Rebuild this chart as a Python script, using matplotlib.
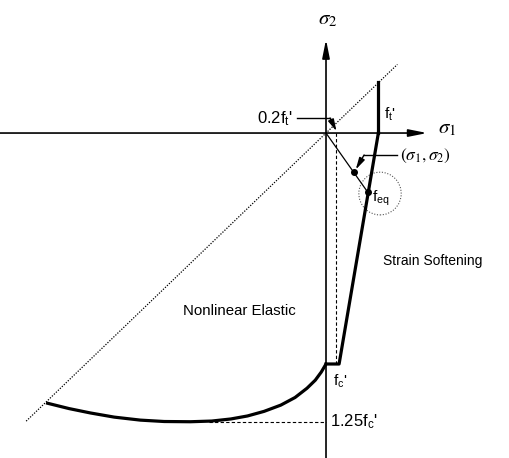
import numpy as np
import matplotlib.pyplot as plt
from matplotlib.patches import Ellipse

plt.rcParams['font.family'] = ['Liberation Sans', 'DejaVu Sans']
plt.rcParams['mathtext.fontset'] = 'custom'
plt.rcParams['mathtext.rm'] = 'Liberation Sans'
plt.rcParams['mathtext.it'] = 'Liberation Sans'

# stresses normalised by f_c'
fc = 1.0
ft = 0.22
fc_peak = 1.25
ft_low = 0.2 * ft        # 0.2 f_t'
soft_end = 0.055          # foot of the softening branch at -f_c'

# nonlinear elastic branch (sigma1, sigma2)
curve_s1 = [-1.17, -1.08, -0.99, -0.89, -0.78, -0.68, -0.57, -0.48, -0.40, -0.33, -0.26,
            -0.19, -0.13, -0.08, -0.045, -0.02, 0.0]
curve_s2 = [-1.17, -1.193, -1.212, -1.23, -1.243, -1.249, -1.25, -1.247, -1.238, -1.225, -1.205,
            -1.178, -1.145, -1.105, -1.07, -1.035, -1.0]

# equal biaxial line sigma1 = sigma2
diag = [-1.26, 0.30]

# stress point and its equivalent point on the failure line
pt = (0.118, -0.170)
feq = (0.176, -0.257)

fig = plt.figure(figsize=(5.09, 4.58), dpi=100)
ax = fig.add_axes([0, 0, 1, 1])
ax.set_xlim(-1.370, 0.769)
ax.set_ylim(-1.407, 0.576)
ax.axis('off')

arr = dict(arrowstyle='-|>,head_length=1.1,head_width=0.22', color='black', lw=1.2,
           shrinkA=0, shrinkB=0)
# axes
ax.annotate('', xy=(0, 0.405), xytext=(0, -1.41), arrowprops=arr)
ax.annotate('', xy=(0.425, 0), xytext=(-1.37, 0), arrowprops=arr)

ax.plot(diag, [d * 0.99 for d in diag], color='black', lw=0.9, ls=(0, (1, 1.2)))

# failure envelope
ax.plot([ft, ft], [ft, 0], color='black', lw=2.3)
ax.plot([ft, soft_end, 0], [0, -fc, -fc], color='black', lw=2.3)
ax.plot(curve_s1, curve_s2, color='black', lw=2.3)

# helper dashed lines
ax.plot([ft_low, ft_low], [0, -fc], color='black', lw=0.8, ls=(0, (3, 2)))
ax.plot([-0.49, 0], [-fc_peak, -fc_peak], color='black', lw=0.8, ls=(0, (3, 2)))

# radial path from origin
ax.plot([0, feq[0]], [0, feq[1]], color='black', lw=0.9)
ax.plot(*pt, 'o', color='black', ms=4)
ax.plot(*feq, 'o', color='black', ms=4)
ax.add_patch(Ellipse((0.227, -0.262), 0.178, 0.185, fill=False, ec='#555555',
                     lw=0.8, ls=(0, (1, 1.5))))

# leaders
ldr = dict(arrowstyle='-|>,head_length=0.7,head_width=0.18', color='black', lw=1.0,
           shrinkA=0, shrinkB=0)
ax.plot([-0.122, 0.017], [0.065, 0.065], color='black', lw=1.0)
ax.annotate('', xy=(ft_low, 0.008), xytext=(0.017, 0.065), arrowprops=ldr)
ax.plot([0.298, 0.160], [-0.095, -0.095], color='black', lw=1.0)
ax.annotate('', xy=(0.125, -0.158), xytext=(0.160, -0.095), arrowprops=ldr)

# labels
ax.text(0.005, 0.49, r'$\sigma_2$', fontsize=15, ha='center', va='center', math_fontfamily='stix')
ax.text(0.51, 0.02, r'$\sigma_1$', fontsize=15, ha='center', va='center', math_fontfamily='stix')
ax.text(-0.14, 0.062, r"$0.2\mathrm{f}_\mathrm{t}$'", fontsize=12, ha='right', va='center')
ax.text(0.245, 0.08, r"$\mathrm{f}_\mathrm{t}$'", fontsize=11, ha='left', va='center')
ax.text(0.31, -0.10, r'$(\sigma_1,\sigma_2)$', fontsize=12.5, ha='left', va='center',
        math_fontfamily='stix')
ax.text(0.195, -0.283, r'$\mathrm{f}_\mathrm{eq}$', fontsize=11, ha='left', va='center')
ax.text(0.028, -1.075, r"$\mathrm{f}_\mathrm{c}$'", fontsize=11, ha='left', va='center')
ax.text(0.015, -1.25, r"$1.25\mathrm{f}_\mathrm{c}$'", fontsize=12, ha='left', va='center')
ax.text(0.45, -0.555, 'Strain Softening', fontsize=10, ha='center', va='center')
ax.text(-0.365, -0.77, 'Nonlinear Elastic', fontsize=10.8, ha='center', va='center')

fig.savefig('out.png', dpi=100)
